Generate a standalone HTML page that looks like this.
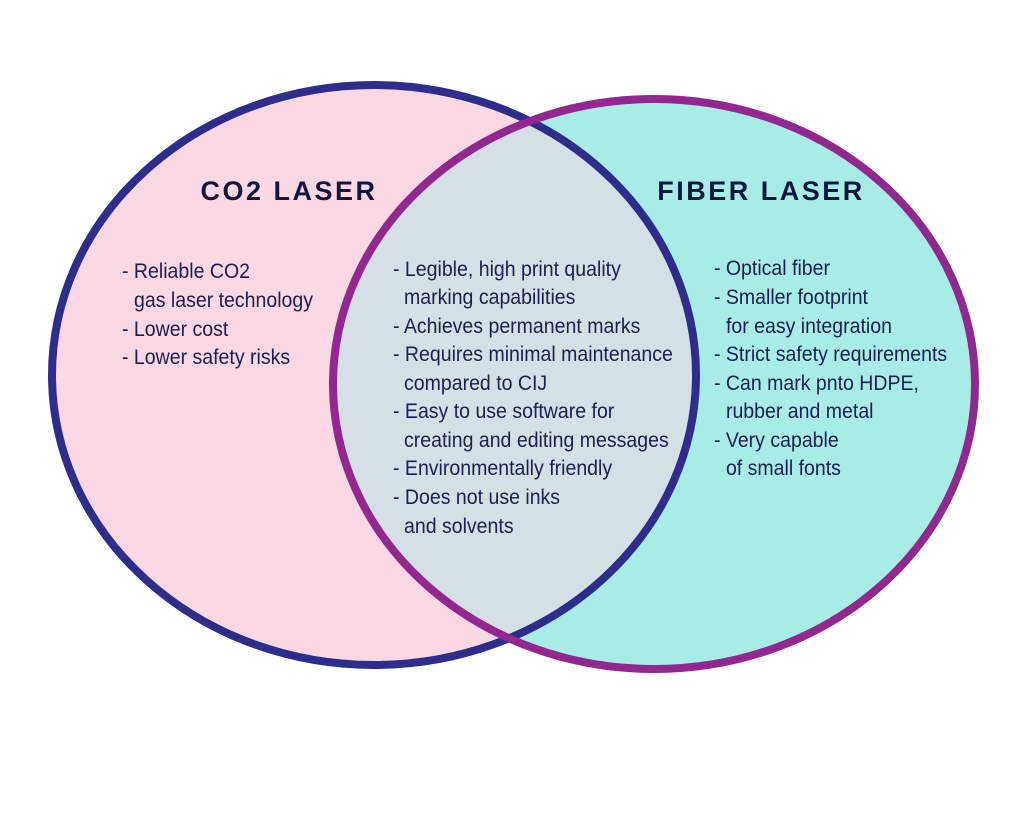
<!DOCTYPE html>
<html><head><meta charset="utf-8"><style>
html,body{margin:0;padding:0;background:#fff;width:1024px;height:819px;overflow:hidden}
svg{display:block}
text{font-family:"Liberation Sans",Arial,sans-serif;fill:#1c1f4f}
.b{font-size:21px}
.t{font-size:27px;font-weight:bold;fill:#13173f;letter-spacing:2.5px}
</style></head><body>
<svg width="1024" height="819" viewBox="0 0 1024 819">
<defs><clipPath id="cl"><ellipse cx="374" cy="375" rx="322" ry="290"/></clipPath></defs>
<ellipse cx="374" cy="375" rx="322" ry="290" fill="#f9d7e3"/>
<ellipse cx="654" cy="384" rx="321" ry="285" fill="#a8ece6"/>
<ellipse cx="654" cy="384" rx="321" ry="285" fill="#d4e0e6" clip-path="url(#cl)"/>
<ellipse cx="374" cy="375" rx="322" ry="290" fill="none" stroke="#2e2d8c" stroke-width="8"/>
<ellipse cx="654" cy="384" rx="321" ry="285" fill="none" stroke="#92278f" stroke-width="8"/>
<text class="t" x="289" y="200" text-anchor="middle">CO2 LASER</text>
<text class="t" x="761" y="200" text-anchor="middle">FIBER LASER</text>
<g transform="scale(0.93,1)">
<text class="b" x="131.2" y="278">- Reliable CO2</text>
<text class="b" x="144.1" y="307">gas laser technology</text>
<text class="b" x="131.2" y="336">- Lower cost</text>
<text class="b" x="131.2" y="364">- Lower safety risks</text>

<text class="b" x="422.6" y="276">- Legible, high print quality</text>
<text class="b" x="434.4" y="304">marking capabilities</text>
<text class="b" x="422.6" y="333">- Achieves permanent marks</text>
<text class="b" x="422.6" y="361">- Requires minimal maintenance</text>
<text class="b" x="434.4" y="390">compared to CIJ</text>
<text class="b" x="422.6" y="418">- Easy to use software for</text>
<text class="b" x="434.4" y="447">creating and editing messages</text>
<text class="b" x="422.6" y="475">- Environmentally friendly</text>
<text class="b" x="422.6" y="504">- Does not use inks</text>
<text class="b" x="434.4" y="533">and solvents</text>

<text class="b" x="767.7" y="275">- Optical fiber</text>
<text class="b" x="767.7" y="304">- Smaller footprint</text>
<text class="b" x="780.6" y="333">for easy integration</text>
<text class="b" x="767.7" y="361">- Strict safety requirements</text>
<text class="b" x="767.7" y="390">- Can mark pnto HDPE,</text>
<text class="b" x="780.6" y="418">rubber and metal</text>
<text class="b" x="767.7" y="447">- Very capable</text>
<text class="b" x="780.6" y="475">of small fonts</text>
</g>
</svg>
</body></html>
